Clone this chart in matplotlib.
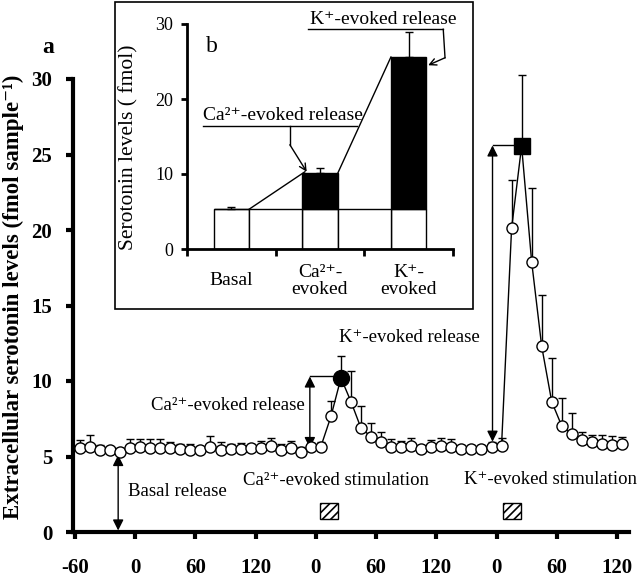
import numpy as np
import matplotlib
matplotlib.use('Agg')
import matplotlib.pyplot as plt
from matplotlib.patches import Rectangle

plt.rcParams['font.family'] = ['Liberation Serif', 'DejaVu Serif']
plt.rcParams['hatch.linewidth'] = 1.2

# ===== DATA (panel a) =====
# continuous time axis in min; blocks restart at 180 and 360 (labelled 0 again)
time_min = [-55, -45, -35, -25, -15, -5, 5, 15, 25, 35, 45, 55, 65, 75, 85,
            95, 105, 115, 125, 135, 145, 155, 165, 175, 185, 195, 205, 215,
            225, 235, 245, 255, 265, 275, 285, 295, 305, 315, 325, 335, 345,
            355, 365, 375, 385, 395, 405, 415, 425, 435, 445, 455, 465, 475,
            485]
serotonin = [5.55, 5.60, 5.40, 5.44, 5.33, 5.55, 5.66, 5.55, 5.55, 5.55,
             5.50, 5.44, 5.44, 5.60, 5.44, 5.50, 5.50, 5.55, 5.55, 5.70,
             5.40, 5.55, 5.33, 5.60, 5.66, 7.65, 10.2, 8.63, 6.87, 6.32,
             5.99, 5.66, 5.60, 5.70, 5.48, 5.60, 5.70, 5.66, 5.48, 5.48,
             5.48, 5.66, 5.70, 20.1, 25.56, 17.9, 12.3, 8.63, 7.02, 6.49,
             6.09, 5.98, 5.83, 5.76, 5.83]
sem = [0.55, 0.83, 0.35, 0.2, 0.2, 0.6, 0.5, 0.6, 0.6, 0.4,
       0.3, 0.4, 0.2, 0.75, 0.5, 0.35, 0.4, 0.3, 0.45, 0.55,
       0.4, 0.45, 0.3, 0.3, 0.3, 1.05, 1.45, 2.0, 1.45, 0.9,
       0.6, 0.5, 0.4, 0.5, 0.3, 0.5, 0.5, 0.5, 0.3, 0.3,
       0.3, 0.3, 0.5, 3.2, 4.7, 4.9, 3.4, 2.9, 1.85, 1.37,
       0.5, 0.45, 0.6, 0.6, 0.45]
ca_peak_idx = 26
k_peak_idx = 44
tick_pos = [-60, 0, 60, 120, 180, 240, 300, 360, 420, 480]
tick_labels = ['-60', '0', '60', '120', '0', '60', '120', '0', '60', '120']
stim_start = [184, 366]
stim_len = 18
stim_labels = ['Ca²⁺-evoked stimulation', 'K⁺-evoked stimulation']

# ===== DATA (panel b) =====
categories = ['Basal', 'Ca²⁺-\nevoked', 'K⁺-\nevoked']
basal_level = [5.3, 5.3, 5.3]
evoked_extra = [0.0, 4.8, 20.3]
bar_sem = [0.25, 0.7, 3.3]

# ===== FIGURE =====
fs_note = 13.5
fig = plt.figure(figsize=(6.4, 5.77), dpi=100)

ax = fig.add_axes([73/640, 1 - 532/577, 556/640, 453/577])
eb = ax.errorbar(time_min, serotonin, yerr=[np.zeros(len(sem)), sem], fmt='-o',
                 color='k', mfc='white', mec='k', ms=8, mew=1, lw=1,
                 elinewidth=1, capsize=3, capthick=1, zorder=3)
for art in list(eb.lines[1]) + list(eb.lines[2]):
    art.set_clip_on(False)
ax.plot(time_min[ca_peak_idx], serotonin[ca_peak_idx], 'o', color='k', ms=11.5, zorder=4)
ax.plot(time_min[k_peak_idx], serotonin[k_peak_idx], 's', color='k', ms=11, zorder=4)

ax.set_xlim(-62, 492)
ax.set_ylim(0, 30)
ax.set_xticks(tick_pos)
ax.set_xticklabels(tick_labels)
ax.set_yticks([0, 5, 10, 15, 20, 25, 30])
for s in ['top', 'right']:
    ax.spines[s].set_visible(False)
for s in ['left', 'bottom']:
    ax.spines[s].set_linewidth(3)
ax.tick_params(axis='x', length=5, width=3, pad=14, labelsize=15)
ax.tick_params(axis='y', length=5, width=3, pad=10, labelsize=15)
for lab in ax.get_xticklabels() + ax.get_yticklabels():
    lab.set_fontweight('bold')
ax.set_ylabel('Extracellular serotonin levels (fmol sample⁻¹)',
              fontsize=16.5, fontweight='bold')
ax.yaxis.set_label_coords(-0.088, 0.52)

# stimulation boxes
for st in stim_start:
    ax.add_patch(Rectangle((st, 0.86), stim_len, 1.06, fc='white', ec='k',
                           lw=1, hatch='////', zorder=2))
ax.text(107.6, 3.38, stim_labels[0], fontsize=fs_note, va='center', ha='left')
ax.text(328, 3.5, stim_labels[1], fontsize=fs_note, va='center', ha='left')

# arrows
dbl = dict(arrowstyle='<|-|>', color='k', lw=1, mutation_scale=16,
           shrinkA=0, shrinkB=0)
ax.annotate('', xy=(-17, 5.1), xytext=(-17, 0.1), arrowprops=dbl)
ax.text(-7, 2.7, 'Basal release', fontsize=fs_note, va='center', ha='left')

ca_arrow_t = 174
ax.annotate('', xy=(ca_arrow_t, 10.3), xytext=(ca_arrow_t, 5.56), arrowprops=dbl)
ax.plot([ca_arrow_t, time_min[ca_peak_idx]], [10.3, 10.3], color='k', lw=1)
ax.text(168.5, 8.4, 'Ca²⁺-evoked release', fontsize=fs_note, va='center', ha='right')

k_arrow_t = 356
ax.annotate('', xy=(k_arrow_t, 25.6), xytext=(k_arrow_t, 5.98), arrowprops=dbl)
ax.plot([k_arrow_t, time_min[k_peak_idx]], [25.6, 25.6], color='k', lw=1)
ax.text(203.3, 12.9, 'K⁺-evoked release', fontsize=fs_note, va='center', ha='left')

fig.text(42/640, 1 - 53/577, 'a', fontsize=17, fontweight='bold', ha='left', va='baseline')

# ===== INSET (panel b) =====
box = Rectangle((115/640, 1 - 309/577), 358/640, 307/577, transform=fig.transFigure,
                fc='white', ec='k', lw=1.2, zorder=2)
fig.add_artist(box)

axb = fig.add_axes([187/640, 1 - 249/577, 266/640, 225/577], zorder=3)
axb.set_facecolor('none')
x = np.arange(len(categories))
w = 0.4
axb.bar(x, basal_level, width=w, color='white', edgecolor='k', lw=1, zorder=2)
gap_x = x[:-1] + 0.5
axb.bar(gap_x, basal_level[:-1], width=1 - w, color='white', edgecolor='k', lw=1, zorder=2)
axb.bar(x, evoked_extra, bottom=basal_level, width=w, color='k', edgecolor='k', lw=1, zorder=2)
totals = np.array(basal_level) + np.array(evoked_extra)
axb.errorbar(x, totals, yerr=[np.zeros(len(bar_sem)), bar_sem], fmt='none',
             ecolor='k', elinewidth=1, capsize=3, capthick=1, zorder=3)

# connecting diagonals between bar tops
axb.plot([x[0] + w/2, x[1] - w/2 + 0.03], [totals[0], totals[1] + 0.2], color='k', lw=1)
axb.plot([x[1] + w/2, x[2] - w/2], [totals[1], totals[2]], color='k', lw=1)

# call-outs
arr = dict(arrowstyle='->', color='k', lw=1, mutation_scale=12, shrinkA=0, shrinkB=0)
axb.plot([-0.32, 1.42], [16.4, 16.4], color='k', lw=1)
axb.plot([0.66, 0.66], [16.4, 13.9], color='k', lw=1)
axb.annotate('', xy=(0.85, 10.3), xytext=(0.66, 13.9), arrowprops=arr)
axb.text(-0.32, 17.2, 'Ca²⁺-evoked release', fontsize=14, ha='left', va='baseline')

axb.plot([0.86, 2.39], [29.3, 29.3], color='k', lw=1, clip_on=False)
axb.plot([2.39, 2.41], [29.3, 25.5], color='k', lw=1, clip_on=False)
axb.annotate('', xy=(2.22, 24.5), xytext=(2.41, 25.5), arrowprops=arr,
             annotation_clip=False)
axb.text(0.89, 30.0, 'K⁺-evoked release', fontsize=14, ha='left', va='baseline')
axb.text(-0.286, 26.3, 'b', fontsize=17, ha='left', va='baseline')

axb.set_xlim(-0.5, 2.5)
axb.set_ylim(0, 30)
axb.set_xticks([-0.5, 0.5, 1.5, 2.5])
axb.set_xticklabels([])
axb.set_yticks([0, 10, 20, 30])
for s in ['top', 'right']:
    axb.spines[s].set_visible(False)
for s in ['left', 'bottom']:
    axb.spines[s].set_linewidth(2)
axb.tick_params(axis='x', length=5, width=2)
axb.tick_params(axis='y', length=4, width=2, pad=6, labelsize=13)
for i, c in enumerate(categories):
    axb.annotate(c, (x[i], 0), xytext=(0, -23), textcoords='offset points',
                 ha='center', va='center', fontsize=14, linespacing=0.95,
                 annotation_clip=False)
axb.set_ylabel('Serotonin levels ( fmol)', fontsize=15.5)
axb.yaxis.set_label_coords((138 - 187) / 266, 0.45)

fig.savefig('out.png', dpi=100)
